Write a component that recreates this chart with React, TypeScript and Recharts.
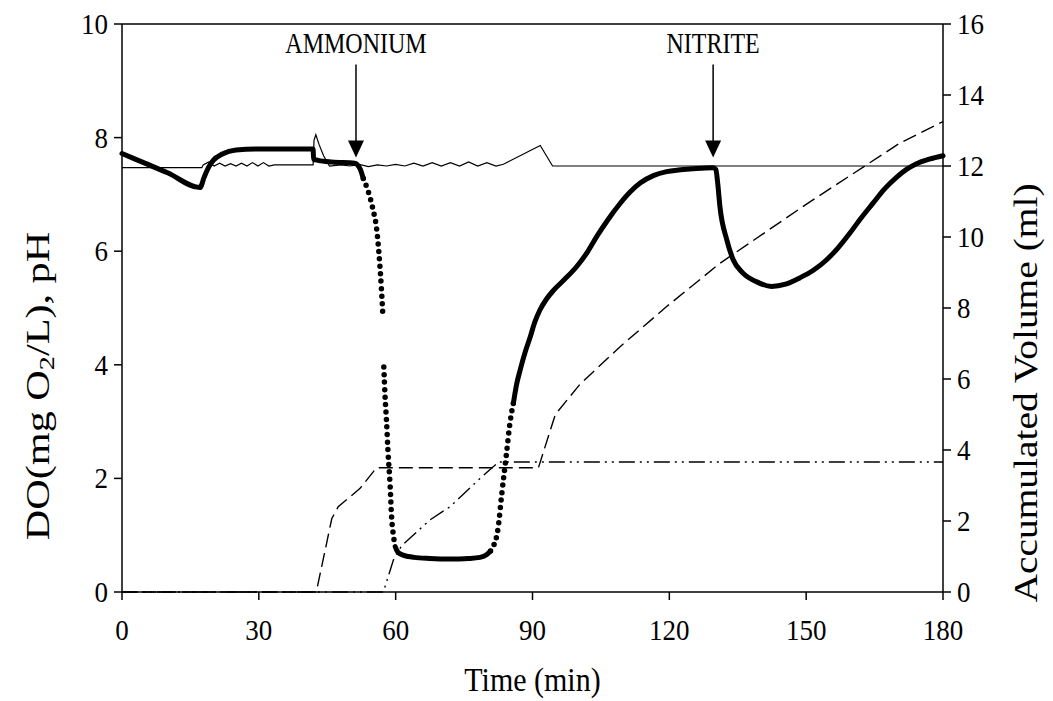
import { LineChart, Line, XAxis, YAxis, ReferenceLine, ReferenceDot, Label } from "recharts";

type Pt = { t: number; v: number | null };
const pts = (rows: (number | null)[][]): Pt[] => rows.map(([t, v]) => ({ t: t as number, v }));

const timeTicks = [0, 30, 60, 90, 120, 150, 180];
const doTicks = [0, 2, 4, 6, 8, 10];
const volumeTicks = [0, 2, 4, 6, 8, 10, 12, 14, 16];

// dissolved oxygen (mg O2/L); steep stretches are kept apart so they can be drawn as loose dots
const doAerated = pts([
  [0, 7.72], [5, 7.55], [10, 7.38], [17.1, 7.12], [18, 7.3], [19, 7.48], [20, 7.6], [22, 7.71],
  [25, 7.78], [30, 7.8], [35, 7.8], [41.9, 7.8], [42, 7.62], [43, 7.6], [46, 7.57], [51, 7.55],
  [52.2, 7.45], [52.9, 7.28],
]);
const doDrop = pts([
  [52.9, 7.28], [54.4, 6.94], [55.1, 6.71], [55.8, 6.41], [56.4, 5.9], [56.9, 5.3], [57.2, 4.86],
  [57.3, null], [57.4, 3.96], [57.7, 3.4], [58, 3.0], [58.3, 2.5], [58.8, 1.85], [59.1, 1.33],
  [59.5, 1.0], [59.9, 0.8],
]);
const doLow = pts([
  [59.9, 0.8], [60.5, 0.7], [61.6, 0.65], [64, 0.61], [67.5, 0.59], [72, 0.58], [76, 0.59],
  [78.5, 0.61], [80, 0.66], [80.8, 0.72],
]);
const doRise = pts([
  [80.8, 0.72], [81.4, 0.8], [82.5, 1.15], [83.2, 1.68], [84.3, 2.44], [85.1, 3.0], [85.8, 3.32],
]);
const doRecovery = pts([
  [85.8, 3.32], [86.5, 3.65], [87.3, 3.91], [88.5, 4.25], [89.5, 4.49], [90.5, 4.75], [91.6, 4.96],
  [93, 5.15], [94.6, 5.31], [97, 5.5], [99.7, 5.73], [102, 5.98], [104.1, 6.26], [106.5, 6.55],
  [109.2, 6.84], [111.5, 7.05], [113.6, 7.2], [116.5, 7.33], [119.4, 7.4], [122, 7.43], [125, 7.45],
  [129.5, 7.47], [130.2, 7.44], [130.6, 7.2], [131.1, 6.78], [132.6, 6.2], [134, 5.85], [136.2, 5.61],
  [139.2, 5.46], [142.4, 5.38], [145.5, 5.42], [148.6, 5.53], [151.5, 5.66], [154.5, 5.85], [157, 6.06],
  [159.6, 6.32], [162, 6.58], [164.7, 6.85], [167, 7.08], [169.8, 7.3], [172, 7.44], [174.2, 7.54],
  [177, 7.62], [180, 7.68],
]);

// pH, with the small swings of the dosing controller
const ph = pts([
  [0, 7.47], [17.5, 7.47], [17.8, 7.52], [19, 7.57], [20.2, 7.5], [21.4, 7.55], [22.6, 7.5],
  [23.8, 7.54], [25, 7.5], [26.2, 7.55], [27.4, 7.5], [28.6, 7.56], [29.8, 7.5], [31, 7.56],
  [32.2, 7.5], [33.4, 7.52], [41.9, 7.52], [42.1, 7.95], [42.5, 8.05], [43.2, 7.88], [44.2, 7.68],
  [44.9, 7.58], [45.5, 7.5], [48, 7.52], [50, 7.5], [52, 7.53], [54, 7.49], [56, 7.52], [58, 7.5],
  [60, 7.53], [62, 7.5], [64, 7.55], [66, 7.5], [68, 7.56], [70, 7.5], [72, 7.56], [74, 7.5],
  [76, 7.57], [78, 7.5], [80, 7.56], [82, 7.5], [83.6, 7.53], [91.7, 7.86], [94.4, 7.5],
  [180, 7.5],
]);

// accumulated volumes (ml)
const volumeA = pts([
  [0, 0], [42.6, 0], [46, 2.07], [47.4, 2.4], [52.2, 2.92], [55.8, 3.5], [91.3, 3.5], [95, 5.0],
  [100.4, 5.85], [109.2, 6.91], [119.4, 8.04], [131.1, 9.26], [150, 10.92], [170.6, 12.65], [180, 13.25],
]);
const volumeB = pts([
  [0, 0], [57.3, 0], [59.5, 0.9], [61.3, 1.3], [67.5, 2.03], [71.9, 2.4], [78.5, 3.2], [82.2, 3.62],
  [82.5, 3.66], [180, 3.66],
]);

const additions = [
  { name: "AMMONIUM", t: 51.3, at: 7.65 },
  { name: "NITRITE", t: 129.6, at: 7.65 },
];

const font = '"Liberation Serif", "Times New Roman", serif';
const axisStroke = { stroke: "#000", strokeWidth: 1.5 };
// the lettering in this figure is a little taller than it is wide
const stretch = 1.12;

const TickText = (anchor: "middle" | "end" | "start", dy: string) => (props: any) => {
  const { x, y, payload } = props;
  return (
    <text transform={`translate(${x},${y}) scale(1,${stretch})`} textAnchor={anchor} dy={dy}
      fontSize={27} fontFamily={font} fill="#000">
      {payload.value}
    </text>
  );
};

const Arrow = (label: string) => (props: any) => {
  const { cx, cy } = props;
  return (
    <g>
      <line x1={cx} y1={cy - 93} x2={cx} y2={cy - 14} stroke="#000" strokeWidth={1.5} />
      <path d={`M${cx - 8},${cy - 17} L${cx + 8},${cy - 17} L${cx},${cy} Z`} fill="#000" />
      <text transform={`translate(${cx},${cy - 104}) scale(1,1.2)`} textAnchor="middle" fontSize={24}
        fontFamily={font} fill="#000">
        {label}
      </text>
    </g>
  );
};

const LeftTitle = ({ viewBox }: any) => {
  const x = viewBox.x + 38;
  const y = 386;
  return (
    <text transform={`translate(${x},${y}) rotate(-90) scale(1.28,1)`} textAnchor="middle"
      dominantBaseline="central" fontSize={33} fontFamily={font} fill="#000">
      DO(mg O<tspan dy={8} fontSize={22}>2</tspan>
      <tspan dy={-8}>/L), pH</tspan>
    </text>
  );
};

const RightTitle = ({ viewBox }: any) => {
  const x = viewBox.x + 82;
  const y = 393;
  return (
    <text transform={`translate(${x},${y}) rotate(-90) scale(1.16,1)`} textAnchor="middle"
      dominantBaseline="central" fontSize={34} fontFamily={font} fill="#000">
      Accumulated Volume (ml)
    </text>
  );
};

const BottomTitle = ({ viewBox }: any) => {
  const x = viewBox.x + viewBox.width / 2;
  const y = viewBox.y + viewBox.height - 10;
  return (
    <text transform={`translate(${x},${y}) scale(1,${stretch})`} textAnchor="middle" fontSize={30}
      fontFamily={font} fill="#000">
      Time (min)
    </text>
  );
};

export default function App() {
  return (
    <div style={{ fontFamily: font, background: "#fff" }}>
      <style>{`body { margin: 0; }`}</style>
      <LineChart width={1053} height={701} margin={{ top: 24, right: 0, bottom: 0, left: 0 }}>
        <XAxis
          dataKey="t"
          type="number"
          domain={[0, 180]}
          ticks={timeTicks}
          height={109}
          tickSize={8}
          tickMargin={19}
          axisLine={axisStroke}
          tickLine={axisStroke}
          tick={TickText("middle", "0.71em")}
          allowDuplicatedCategory={false}
        >
          <Label content={BottomTitle} />
        </XAxis>
        <YAxis
          yAxisId="left"
          domain={[0, 10]}
          ticks={doTicks}
          width={122}
          tickSize={8}
          tickMargin={6}
          axisLine={axisStroke}
          tickLine={axisStroke}
          tick={TickText("end", "0.33em")}
        >
          <Label content={LeftTitle} />
        </YAxis>
        <YAxis
          yAxisId="right"
          orientation="right"
          domain={[0, 16]}
          ticks={volumeTicks}
          width={110}
          tickSize={8}
          tickMargin={6}
          axisLine={axisStroke}
          tickLine={axisStroke}
          tick={TickText("start", "0.33em")}
        >
          <Label content={RightTitle} />
        </YAxis>
        <ReferenceLine yAxisId="left" y={10} stroke="#000" strokeWidth={1.5} />

        <Line yAxisId="right" data={volumeA} dataKey="v" type="linear" stroke="#000" strokeWidth={1.4}
          strokeDasharray="14 6" dot={false} isAnimationActive={false} />
        <Line yAxisId="right" data={volumeB} dataKey="v" type="linear" stroke="#000" strokeWidth={1.4}
          strokeDasharray="16 5 2 5 2 5" dot={false} isAnimationActive={false} />
        <Line yAxisId="left" data={ph} dataKey="v" type="linear" stroke="#000" strokeWidth={1.2}
          dot={false} isAnimationActive={false} />

        {[doAerated, doLow, doRecovery].map((seg, i) => (
          <Line key={`do-${i}`} yAxisId="left" data={seg} dataKey="v" type="monotone" stroke="#000"
            strokeWidth={5} strokeLinecap="round" dot={false} isAnimationActive={false} />
        ))}
        {[doDrop, doRise].map((seg, i) => (
          <Line key={`dots-${i}`} yAxisId="left" data={seg} dataKey="v" type="monotone" stroke="#000"
            strokeWidth={5.5} strokeLinecap="round" strokeDasharray="0 7.5" dot={false}
            isAnimationActive={false} />
        ))}

        {additions.map((a) => (
          <ReferenceDot key={a.name} yAxisId="left" x={a.t} y={a.at} r={0} shape={Arrow(a.name)} />
        ))}
      </LineChart>
    </div>
  );
}
